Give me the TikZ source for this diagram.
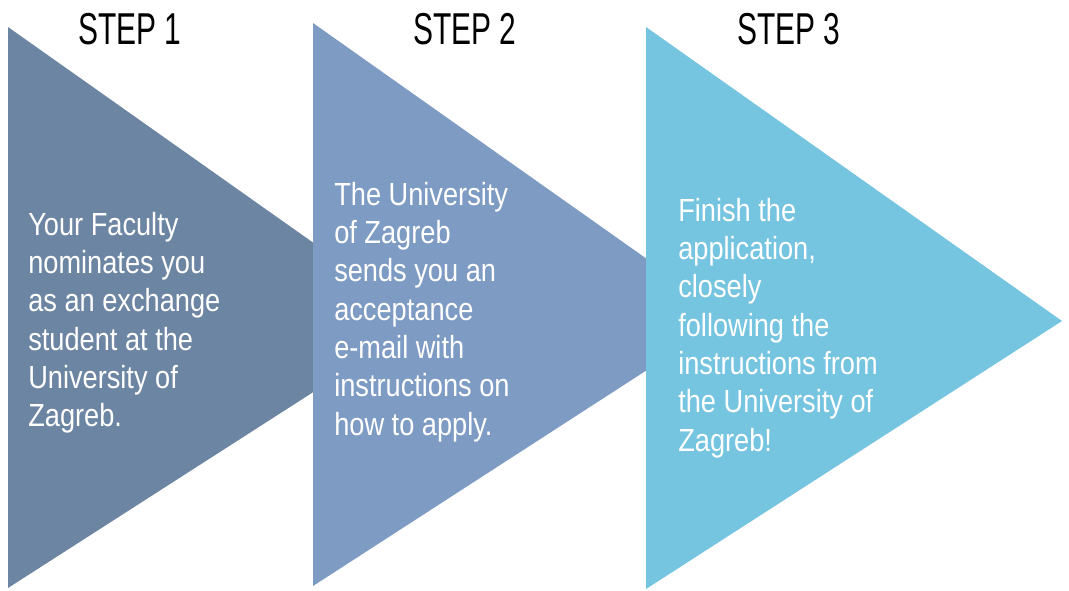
\documentclass[tikz,border=0pt]{standalone}
\usepackage{fontspec}
\usepackage{xcolor}
\setmainfont{Liberation Sans}
\newfontfamily\headfont{Liberation Sans}[FakeStretch=0.67]
\newfontfamily\bodyfont{Liberation Sans}[FakeStretch=0.85]
\definecolor{stepone}{RGB}{108,133,162}
\definecolor{steptwo}{RGB}{125,155,195}
\definecolor{stepthree}{RGB}{117,196,224}

\begin{document}
\begin{tikzpicture}[x=0.75pt, y=-0.75pt,
		stephead/.style={font=\headfont\fontsize{33.5}{40}\selectfont, text=black, inner sep=0pt},
		steptext/.style={font=\bodyfont\fontsize{24}{28.7}\selectfont, text=white, align=left, anchor=north west, inner sep=0pt}]
					\useasboundingbox (0,0) rectangle (1069,590);
					\fill[stepone] (8,27) -- (8,588) -- (424,321) -- cycle;
					\fill[steptwo] (313,23) -- (313,586) -- (729,317) -- cycle;
					\fill[stepthree] (646,27) -- (646,589) -- (1062,321) -- cycle;
					\node[stephead] (head1) at (130,29) {STEP 1};
					\node[stephead] (head2) at (465,29) {STEP 2};
					\node[stephead] (head3) at (789,29) {STEP 3};
					\node[steptext] (text1) at (28,212) {Your Faculty\\ nominates you\\ as an exchange\\ student at the\\ University of\\ Zagreb.};
					\node[steptext] (text2) at (334,182) {The University\\ of Zagreb\\ sends you an\\ acceptance\\ e-mail with\\ instructions on\\ how to apply.};
					\node[steptext] (text3) at (678,198) {Finish the\\ application,\\ closely\\ following the\\ instructions from\\ the University of\\ Zagreb!};
				\end{tikzpicture}
\end{document}
